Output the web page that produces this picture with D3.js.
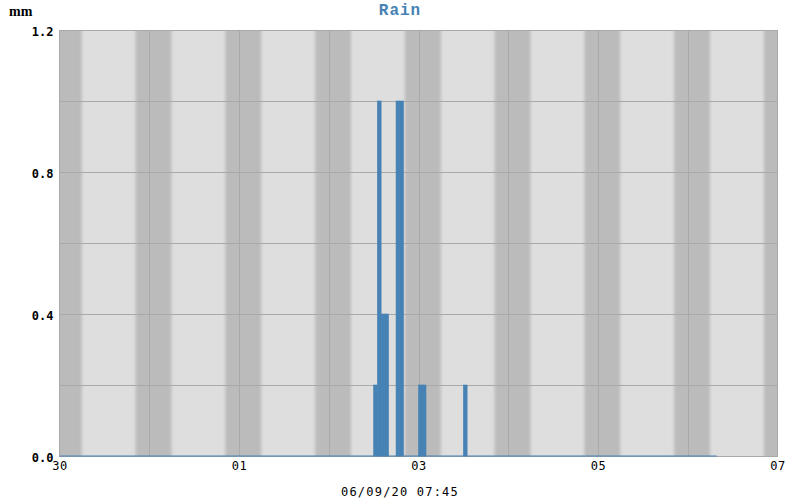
<!DOCTYPE html>
<html>
<head>
<meta charset="utf-8">
<script src="https://cdn.jsdelivr.net/npm/d3@7"></script>
<style>
  body { margin: 0; background: #fff; }
</style>
</head>
<body>
<svg id="chart"></svg>
<script>
// chart data
const xDomain = ['2020-08-30T00:00', '2020-09-07T00:00'];
const dataEnd = '2020-09-06T07:45';
const rainHours = [
  '2020-09-02T12:00', '2020-09-02T13:00', '2020-09-02T14:00', '2020-09-02T15:00',
  '2020-09-02T18:00', '2020-09-02T19:00', '2020-09-03T00:00', '2020-09-03T01:00',
  '2020-09-03T12:00'
];
const rainMm = [0.2, 1.0, 0.4, 0.4, 1.0, 1.0, 0.2, 0.2, 0.2];
const yTicks = [0.0, 0.4, 0.8, 1.2];
const yGrid = [0.2, 0.4, 0.6, 0.8, 1.0];
const sunriseHour = 5.95;
const sunsetHour = 20.35;
const footerLabel = '06/09/20 07:45';

const w = 800;
const h = 500;
const plotLeft = 59.5, plotRight = 777.5, plotTop = 30, plotBottom = 456;

const parse = d3.utcParse('%Y-%m-%dT%H:%M');
const t0 = parse(xDomain[0]);
const t1 = parse(xDomain[1]);

const x = d3.scaleUtc().domain([t0, t1]).range([plotLeft, plotRight]);
const y = d3.scaleLinear().domain([0, 1.2]).range([plotBottom, plotTop]);

const svg = d3.select('#chart')
  .attr('width', w)
  .attr('height', h);

const defs = svg.append('defs');
defs.append('clipPath').attr('id', 'plotClip')
  .append('rect')
  .attr('x', plotLeft).attr('y', plotTop)
  .attr('width', plotRight - plotLeft).attr('height', plotBottom - plotTop);
defs.append('filter').attr('id', 'soft')
  .attr('x', '-10%').attr('width', '120%')
  .append('feGaussianBlur').attr('stdDeviation', '1.6 0');

// background
svg.append('rect')
  .attr('x', plotLeft).attr('y', plotTop)
  .attr('width', plotRight - plotLeft).attr('height', plotBottom - plotTop)
  .attr('fill', '#dedede');

// night shading
const nights = d3.utcDay.range(d3.utcDay.offset(t0, -1), t1);
const sunset = d => d3.utcMinute.offset(d, Math.round(sunsetHour * 60));
const sunrise = d => d3.utcMinute.offset(d, Math.round((24 + sunriseHour) * 60));
svg.append('g').attr('clip-path', 'url(#plotClip)')
  .append('g').attr('filter', 'url(#soft)')
  .selectAll('rect')
  .data(nights)
  .enter()
  .append('rect')
  .attr('x', d => x(sunset(d)))
  .attr('width', d => x(sunrise(d)) - x(sunset(d)))
  .attr('y', plotTop - 5)
  .attr('height', plotBottom - plotTop + 10)
  .attr('fill', '#bbbbbb');

// grid
const grid = svg.append('g').attr('stroke', '#a9a9a9').attr('stroke-width', 1);
grid.selectAll('.hg')
  .data(yGrid)
  .enter()
  .append('line')
  .attr('x1', plotLeft).attr('x2', plotRight)
  .attr('y1', d => Math.round(y(d)) + 0.5)
  .attr('y2', d => Math.round(y(d)) + 0.5);
grid.selectAll('.vg')
  .data(d3.utcDay.range(d3.utcDay.offset(t0, 1), t1))
  .enter()
  .append('line')
  .attr('y1', plotTop).attr('y2', plotBottom)
  .attr('x1', d => Math.round(x(d)) + 0.5)
  .attr('x2', d => Math.round(x(d)) + 0.5);

svg.append('rect')
  .attr('x', plotLeft).attr('y', plotTop + 0.5)
  .attr('width', plotRight - plotLeft).attr('height', plotBottom - plotTop)
  .attr('fill', 'none')
  .attr('stroke', '#a9a9a9');

// zero baseline of the data period
svg.append('line')
  .attr('x1', x(t0)).attr('x2', x(parse(dataEnd)))
  .attr('y1', plotBottom).attr('y2', plotBottom)
  .attr('stroke', '#4682b4')
  .attr('stroke-width', 1);

// rain bars
const bars = rainHours.map((t, i) => ({ t: parse(t), v: rainMm[i] }));
svg.selectAll('.bar')
  .data(bars)
  .enter()
  .append('rect')
  .attr('class', 'bar')
  .attr('x', d => x(d.t))
  .attr('width', d => x(d3.utcHour.offset(d.t, 1)) - x(d.t))
  .attr('y', d => y(d.v))
  .attr('height', d => plotBottom - y(d.v))
  .attr('fill', '#4682b4')
  .attr('stroke', '#4682b4')
  .attr('stroke-width', 0.6);

// axes
const yAxis = svg.append('g')
  .attr('transform', `translate(${plotLeft - 6},0)`)
  .call(d3.axisLeft(y).tickValues(yTicks).tickFormat(d3.format('.1f')).tickSize(0).tickPadding(0));
yAxis.select('.domain').remove();
yAxis.selectAll('text')
  .attr('dy', '0.55em')
  .attr('y', -1)
  .style('font-family', 'DejaVu Sans Mono')
  .style('font-size', '12px')
  .style('font-weight', 'bold')
  .attr('fill', '#000');

const xAxis = svg.append('g')
  .attr('transform', `translate(0,${plotBottom})`)
  .call(d3.axisBottom(x)
    .tickValues(d3.utcDay.range(t0, d3.utcDay.offset(t1, 1), 2))
    .tickFormat(d3.utcFormat('%d'))
    .tickSize(0)
    .tickPadding(5));
xAxis.select('.domain').remove();
xAxis.selectAll('text')
  .style('font-family', 'DejaVu Sans Mono')
  .style('font-size', '12px')
  .style('letter-spacing', '0.5px')
  .attr('fill', '#000');

// labels
svg.append('text')
  .attr('x', 400).attr('y', 15)
  .attr('text-anchor', 'middle')
  .style('font-family', 'Liberation Mono')
  .style('font-weight', 'bold')
  .style('font-size', '16px')
  .style('letter-spacing', '1px')
  .attr('fill', '#4682b4')
  .text('Rain');

svg.append('text')
  .attr('x', 9).attr('y', 16)
  .style('font-family', 'Liberation Serif')
  .style('font-weight', 'bold')
  .style('font-size', '14px')
  .attr('fill', '#000')
  .text('mm');

svg.append('text')
  .attr('x', 400).attr('y', 496)
  .attr('text-anchor', 'middle')
  .style('font-family', 'DejaVu Sans Mono')
  .style('font-size', '12px')
  .style('letter-spacing', '1.2px')
  .attr('fill', '#000')
  .text(footerLabel);
</script>
</body>
</html>
